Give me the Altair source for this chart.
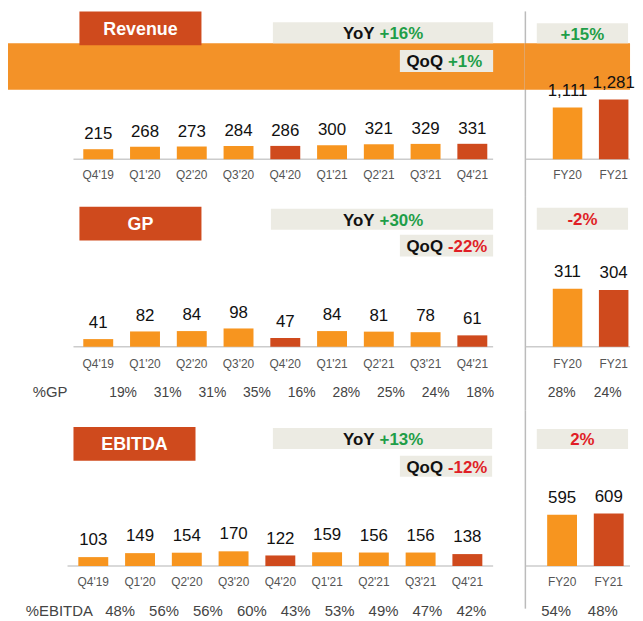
import altair as alt
import pandas as pd

# ---------------- data ----------------
quarters = ["Q4'19", "Q1'20", "Q2'20", "Q3'20", "Q4'20", "Q1'21", "Q2'21", "Q3'21", "Q4'21"]
years = ["FY20", "FY21"]
highlight = ["Q4'20", "Q4'21", "FY21"]

revenue_q = [215, 268, 273, 284, 286, 300, 321, 329, 331]
revenue_fy = [1111, 1281]
gp_q = [41, 82, 84, 98, 47, 84, 81, 78, 61]
gp_fy = [311, 304]
ebitda_q = [103, 149, 154, 170, 122, 159, 156, 156, 138]
ebitda_fy = [595, 609]

gp_pct_q = [19, 31, 31, 35, 16, 28, 25, 24, 18]
gp_pct_fy = [28, 24]
ebitda_pct_q = [48, 56, 56, 60, 43, 53, 49, 47, 42]
ebitda_pct_fy = [54, 48]

metric_names = ["Revenue", "GP", "EBITDA"]
pct_names = [None, "%GP", "%EBITDA"]
yoy_growth = ["+16%", "+30%", "+13%"]
qoq_growth = ["+1%", "-22%", "-12%"]
fy_growth = ["+15%", "-2%", "2%"]
yoy_good = [True, True, True]
qoq_good = [True, False, False]
fy_good = [True, False, False]

q_values = [revenue_q, gp_q, ebitda_q]
fy_values = [revenue_fy, gp_fy, ebitda_fy]
q_pcts = [None, gp_pct_q, ebitda_pct_q]
fy_pcts = [None, gp_pct_fy, ebitda_pct_fy]

# ---------------- style / layout ----------------
FONT = "Liberation Sans, Arial, sans-serif"
LIGHT = "#F7951F"
DARK = "#CF4A1D"
BAND = "#F39228"
BOXC = "#ECEBE3"
GREEN = "#1F9E48"
RED = "#E01E26"
GRID = "#CCCCCC"
WQ, WF = 521, 106

layout = [
    dict(H=187, base=149, dom=1000, k=0.047, xr=[67.4, 491.6], fxr=[19.75, 112.75],
         tbox=(72, 195, 0, 34), ybox=(267, 489, 11, 32), qbox=(395, 489, 39, 61),
         fbox=(12, 104, 12, 32), band=(32, 79), cat_y=169, dy=-10, fdy=-12, bx0=66,
         pct_y=None, prng=None, plx=None, psize=14),
    dict(H=215, base=151, dom=100, k=0.188, xr=[67.4, 491.6], fxr=[19.75, 112.75],
         tbox=(72, 195, 10, 44), ybox=(265, 489, 12, 33), qbox=(395, 489, 38, 60),
         fbox=(12, 104, 11, 33), band=None, cat_y=172, dy=-11, fdy=-12, bx0=66,
         pct_y=202, prng=[116, 476], plx=25, psize=14),
    dict(H=210, base=157, dom=100, k=0.087, xr=[62.4, 486.6], fxr=[14, 108],
         tbox=(66, 189, 17, 51), ybox=(267, 488, 18, 39), qbox=(395, 488, 46, 67),
         fbox=(12, 104, 19, 39), band=None, cat_y=177, dy=-12, fdy=-12, bx0=60,
         pct_y=207, prng=[113, 467], plx=18, psize=15),
]

one = pd.DataFrame({"d": [0]})


def box(x0, x1, y0, y1, color):
    return alt.Chart(one).mark_rect(color=color).encode(
        x=alt.value(x0), x2=alt.value(x1), y=alt.value(y0), y2=alt.value(y1))


def label(x, y, text, color="#111111", size=17, bold=True, align="center"):
    return alt.Chart(one).mark_text(
        text=text, font=FONT, fontSize=size, fontWeight="bold" if bold else "normal",
        color=color, align=align, baseline="alphabetic").encode(x=alt.value(x), y=alt.value(y))


def hrule(x0, x1, y):
    return alt.Chart(one).mark_rule(color=GRID, strokeWidth=1.5).encode(
        x=alt.value(x0), x2=alt.value(x1), y=alt.value(y))


def xband(domain, rng):
    return alt.X("period:N", axis=None,
                 scale=alt.Scale(domain=domain, range=rng, paddingInner=0.36, paddingOuter=0.18))


def ybar(L):
    return alt.Y("value:Q", axis=None, stack=None,
                 scale=alt.Scale(domain=[0, L["dom"]], range=[L["base"], L["base"] - L["dom"] * L["k"]],
                                 nice=False, zero=False))


bar_color = alt.condition(alt.FieldOneOfPredicate(field="period", oneOf=highlight),
                          alt.value(DARK), alt.value(LIGHT))


def quarter_panel(i):
    L = layout[i]
    df = pd.DataFrame({"period": quarters, "value": q_values[i]})
    layers = []
    if L["band"]:
        layers.append(box(0, WQ, L["band"][0], L["band"][1], BAND))
    layers.append(hrule(L["bx0"], 489, L["base"]))
    t = L["tbox"]
    layers.append(box(*t, DARK))
    layers.append(label((t[0] + t[1]) / 2, (t[2] + t[3]) / 2 + 6.5, metric_names[i],
                        color="white", size=18))
    yb = L["ybox"]
    layers.append(box(*yb, BOXC))
    ycy = (yb[2] + yb[3]) / 2 + 6.5
    layers.append(label(369.5, ycy, "YoY", align="right"))
    layers.append(label(374.5, ycy, yoy_growth[i], color=GREEN if yoy_good[i] else RED, align="left"))
    qb = L["qbox"]
    layers.append(box(*qb, BOXC))
    qcy = (qb[2] + qb[3]) / 2 + 6.5
    layers.append(label(438.5, qcy, "QoQ", align="right"))
    layers.append(label(443.5, qcy, qoq_growth[i], color=GREEN if qoq_good[i] else RED, align="left"))

    base = alt.Chart(df)
    layers.append(base.mark_bar().encode(x=xband(quarters, L["xr"]), y=ybar(L), color=bar_color))
    layers.append(base.mark_text(font=FONT, fontSize=17, color="#111111", baseline="alphabetic",
                                 dy=L["dy"]).encode(x=xband(quarters, L["xr"]), y=ybar(L),
                                                    text=alt.Text("value:Q", format=",")))
    layers.append(base.mark_text(font=FONT, fontSize=12, color="#555555", baseline="alphabetic").encode(
        x=xband(quarters, L["xr"]), y=alt.value(L["cat_y"]), text="period:N"))
    if q_pcts[i] is not None:
        pdf = pd.DataFrame({"period": quarters, "pct": q_pcts[i]})
        layers.append(label(L["plx"], L["pct_y"], pct_names[i], color="#444444", size=15,
                            bold=False, align="left"))
        layers.append(alt.Chart(pdf).transform_calculate(lbl="datum.pct + '%'").mark_text(
            font=FONT, fontSize=L["psize"], color="#444444", baseline="alphabetic").encode(
            x=alt.X("period:N", axis=None,
                    scale=alt.Scale(type="point", domain=quarters, range=L["prng"], padding=0)),
            y=alt.value(L["pct_y"]), text="lbl:N"))
    return alt.layer(*layers).resolve_scale(x="independent").properties(width=WQ, height=L["H"])


def fy_panel(i):
    L = layout[i]
    df = pd.DataFrame({"period": years, "value": fy_values[i]})
    layers = []
    layers.append(alt.Chart(one).mark_rule(color="#BBBBBB", strokeWidth=1.5).encode(
        x=alt.value(0.5), y=alt.value(0), y2=alt.value(L["H"] if i < 2 else 200)))
    if L["band"]:
        layers.append(box(0, WF, L["band"][0], L["band"][1], BAND))
    fb = L["fbox"]
    layers.append(box(*fb, BOXC))
    layers.append(label((fb[0] + fb[1]) / 2, (fb[2] + fb[3]) / 2 + 6.5, fy_growth[i],
                        color=GREEN if fy_good[i] else RED))
    layers.append(hrule(1, WF, L["base"]))
    base = alt.Chart(df)
    layers.append(base.mark_bar().encode(x=xband(years, L["fxr"]), y=ybar(L), color=bar_color))
    layers.append(base.mark_text(font=FONT, fontSize=17, color="#111111", baseline="alphabetic",
                                 dy=L["fdy"]).encode(x=xband(years, L["fxr"]), y=ybar(L),
                                                     text=alt.Text("value:Q", format=",")))
    layers.append(base.mark_text(font=FONT, fontSize=12, color="#555555", baseline="alphabetic").encode(
        x=xband(years, L["fxr"]), y=alt.value(L["cat_y"]), text="period:N"))
    if fy_pcts[i] is not None:
        pdf = pd.DataFrame({"period": years, "pct": fy_pcts[i]})
        layers.append(alt.Chart(pdf).transform_calculate(lbl="datum.pct + '%'").mark_text(
            font=FONT, fontSize=L["psize"], color="#444444", baseline="alphabetic", dx=-6).encode(
            x=xband(years, L["fxr"]), y=alt.value(L["pct_y"]), text="lbl:N"))
    return alt.layer(*layers).resolve_scale(x="independent").properties(width=WF, height=L["H"])


panels = []
for i in range(3):
    panels.append(quarter_panel(i))
    panels.append(fy_panel(i))

chart = alt.concat(*panels, columns=2, spacing=0, bounds="flush", align="each").properties(
    padding=0).configure_view(stroke=None).configure_concat(spacing=0)

chart.save("out.html", embed_options={"renderer": "svg", "actions": False})
